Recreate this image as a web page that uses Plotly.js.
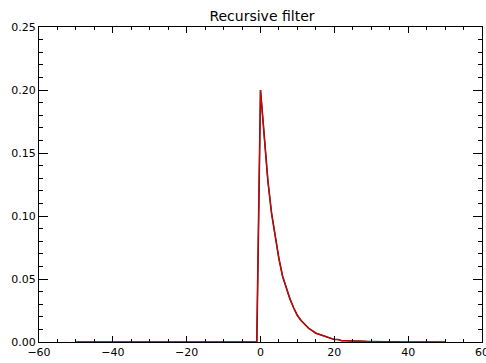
<!DOCTYPE html>
<html>
<head>
<meta charset="utf-8">
<script src="https://cdn.plot.ly/plotly-3.0.1.min.js"></script>
<style>html,body{margin:0;padding:0;background:#fff;}#chart{width:486px;height:363px;}</style>
</head>
<body>
<div id="chart"></div>
<script>
// sample index (-50 .. 50)
var xs = [-50,-49,-48,-47,-46,-45,-44,-43,-42,-41,-40,-39,-38,-37,-36,-35,-34,-33,-32,-31,
          -30,-29,-28,-27,-26,-25,-24,-23,-22,-21,-20,-19,-18,-17,-16,-15,-14,-13,-12,-11,
          -10,-9,-8,-7,-6,-5,-4,-3,-2,-1,
          0,1,2,3,4,5,6,7,8,9,10,11,12,13,14,15,16,17,18,19,20,21,22,23,24,25,
          26,27,28,29,30,31,32,33,34,35,36,37,38,39,40,41,42,43,44,45,46,47,48,49,50];
// impulse response
var negSide = [0,0,0,0,0,0,0,0,0,0,0,0,0,0,0,0,0,0,0,0,0,0,0,0,0,
               0,0,0,0,0,0,0,0,0,0,0,0,0,0,0,0,0,0,0,0,0,0,0,0,0];
var posSide = [0.200,0.160,0.128,0.102,0.082,0.066,0.052,0.042,0.034,0.027,
               0.021,0.017,0.014,0.011,0.009,0.007,0.006,0.005,0.004,0.003,
               0.002,0.002,0.001,0.001,0.001,0.001,0.0008,0.0006,0.0005,0.0004,
               0.0003,0.0003,0.0002,0.0002,0.0001,0.0001,0.0001,0.0001,0,0,
               0,0,0,0,0,0,0,0,0,0,0];
var ys = negSide.concat(posSide);
var titleText = "Recursive filter";

var fam = "DejaVu Sans, Arial, sans-serif";
var traces = [
  {x: xs, y: ys, type: "scatter", mode: "lines", line: {color: "#222", width: 1.6}, hoverinfo: "skip"},
  {x: xs, y: ys, type: "scatter", mode: "lines", line: {color: "#e00000", width: 1.2}, hoverinfo: "skip"}
];
var axisCommon = {
  showgrid: false, zeroline: false, showline: true, linecolor: "#000", linewidth: 1,
  mirror: "allticks", ticks: "inside", tickcolor: "#000", tickwidth: 1,
  ticklabeloverflow: "allow",
  tickfont: {family: fam, size: 11, color: "#000"}
};
var layout = {
  width: 486, height: 363,
  margin: {l: 39, r: 4, t: 27, b: 21, pad: 0},
  paper_bgcolor: "#fff", plot_bgcolor: "#fff",
  showlegend: false,
  font: {family: fam, size: 11, color: "#000"},
  title: {text: titleText, x: 0.539, xanchor: "center", y: 0.955, yanchor: "middle",
          font: {family: fam, size: 14, color: "#000"}},
  xaxis: Object.assign({}, axisCommon, {
    range: [-60, 60], tick0: -60, dtick: 20, ticklen: 6,
    minor: {dtick: 5, ticklen: 3, ticks: "inside", tickcolor: "#000", tickwidth: 1, showgrid: false}
  }),
  yaxis: Object.assign({}, axisCommon, {
    range: [0, 0.25], tick0: 0, dtick: 0.05, ticklen: 9, tickformat: ".2f",
    minor: {dtick: 0.01, ticklen: 4, ticks: "inside", tickcolor: "#000", tickwidth: 1, showgrid: false}
  })
};
Plotly.newPlot("chart", traces, layout, {staticPlot: true, displayModeBar: false});
</script>
</body>
</html>
